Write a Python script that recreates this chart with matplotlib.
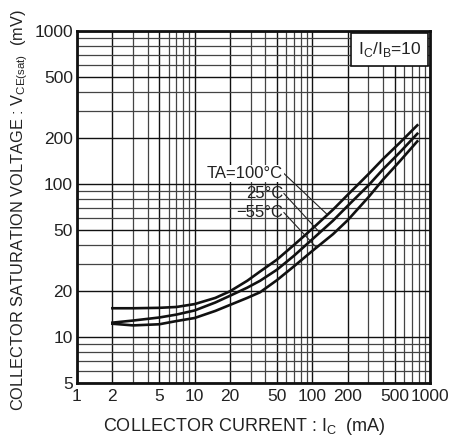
import matplotlib
matplotlib.use("Agg")
import matplotlib.pyplot as plt
from matplotlib.ticker import LogLocator, FixedLocator, NullFormatter

# ---- data ----
ic = [2, 3, 5, 7, 10, 15, 20, 28, 36, 50, 70, 100, 150, 200, 300, 400, 550, 780]
v_100 = [15.4, 15.4, 15.5, 15.7, 16.4, 18.0, 19.9, 23.3, 26.8, 32.0, 40.0, 51.0, 68.0, 85.0, 116.0, 146.0, 185.0, 242.0]
v_25 = [12.4, 12.8, 13.4, 14.0, 14.9, 16.8, 18.6, 21.0, 23.3, 27.5, 34.0, 43.5, 57.6, 72.0, 98.0, 125.0, 160.0, 213.0]
v_m55 = [12.2, 11.9, 12.1, 12.7, 13.3, 14.8, 16.2, 18.0, 19.6, 23.5, 29.0, 36.5, 47.0, 58.0, 82.0, 107.0, 140.0, 190.0]

labels = ["TA=100°C", "25°C", "−55°C"]
label_start = [(57.4, 117.0), (57.4, 86.6), (57.4, 65.0)]
label_end = [(133.0, 63.5), (116.0, 48.0), (108.0, 38.5)]

x_ticks = [1, 2, 5, 10, 20, 50, 100, 200, 500, 1000]
y_ticks = [5, 10, 20, 50, 100, 200, 500, 1000]

plt.rcParams['font.family'] = ['Liberation Sans', 'DejaVu Sans']

fig = plt.figure(figsize=(4.51, 4.37), dpi=100)
ax = fig.add_axes([0.1707, 0.1236, 0.9534 - 0.1707, 0.929 - 0.1236])
ax.set_xscale('log')
ax.set_yscale('log')
ax.set_xlim(1, 1000)
ax.set_ylim(5, 1000)

ax.xaxis.set_major_locator(FixedLocator(x_ticks))
ax.yaxis.set_major_locator(FixedLocator(y_ticks))
ax.xaxis.set_major_formatter(plt.FixedFormatter([str(t) for t in x_ticks]))
ax.yaxis.set_major_formatter(plt.FixedFormatter([str(t) for t in y_ticks]))
ax.xaxis.set_minor_locator(LogLocator(base=10, subs=range(2, 10), numticks=20))
ax.yaxis.set_minor_locator(LogLocator(base=10, subs=range(2, 10), numticks=20))
ax.xaxis.set_minor_formatter(NullFormatter())
ax.yaxis.set_minor_formatter(NullFormatter())
ax.tick_params(which='both', length=0, labelsize=12.5, colors='#222222')
ax.tick_params(axis='x', pad=4)
ax.tick_params(axis='y', pad=3)

ax.grid(True, which='major', color='#111111', lw=1.0)
ax.grid(True, which='minor', color='#444444', lw=0.9)
ax.set_axisbelow(True)
for s in ax.spines.values():
    s.set_linewidth(2.0)
    s.set_color('#111111')

for v in (v_100, v_25, v_m55):
    ax.plot(ic, v, color='#111111', lw=1.9, zorder=3)

for lab, (xs, ys), (xe, ye) in zip(labels, label_start, label_end):
    ax.plot([xs, xe], [ys, ye], color='#222222', lw=0.8, zorder=3)
    ax.text(xs * 0.985, ys, lab, ha='right', va='center', fontsize=12,
            color='#222222', zorder=4,
            bbox=dict(facecolor='white', edgecolor='none', pad=0.6) if lab.startswith('TA') else None)

ax.text(0.975, 0.975, r"I$_\mathregular{C}$/I$_\mathregular{B}$=10", transform=ax.transAxes,
        ha='right', va='top', fontsize=12.5, color='#222222', zorder=5,
        bbox=dict(facecolor='white', edgecolor='#111111', lw=1.2, boxstyle='square,pad=0.4'))

ax.set_xlabel(r"COLLECTOR CURRENT : I$_\mathregular{C}$  (mA)", fontsize=13, color='#222222')
ax.xaxis.set_label_coords(0.475, -0.093)
ax.set_ylabel(r"COLLECTOR SATURATION VOLTAGE : V$_\mathregular{CE(sat)}$  (mV)", fontsize=11.8,
              color='#222222')
ax.yaxis.set_label_coords(-0.133, 0.49)

fig.savefig("out.png", dpi=100, facecolor='white')
